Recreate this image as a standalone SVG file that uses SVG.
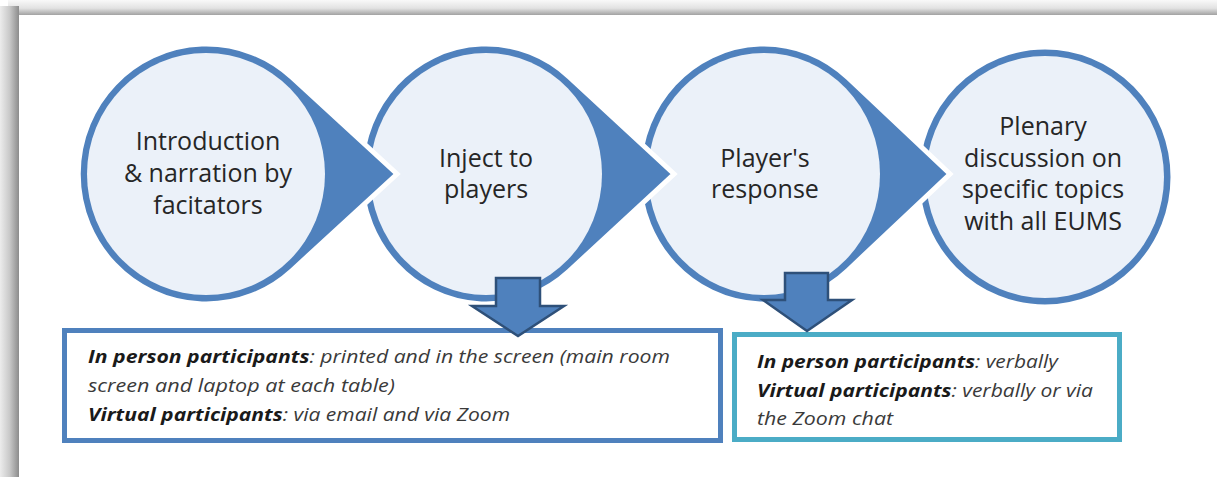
<svg xmlns="http://www.w3.org/2000/svg" width="1217" height="477" viewBox="0 0 1217 477">
<defs>
<linearGradient id="gTop" x1="0" y1="0" x2="0" y2="1">
<stop offset="0" stop-color="#f9f9f9"/>
<stop offset="0.55" stop-color="#e2e2e2"/>
<stop offset="1" stop-color="#a2a2a2"/>
</linearGradient>
<linearGradient id="gLeft" x1="0" y1="0" x2="1" y2="0">
<stop offset="0" stop-color="#ececec"/>
<stop offset="0.5" stop-color="#c9c9c9"/>
<stop offset="1" stop-color="#8c8c8c"/>
</linearGradient>
<style>
.ring{fill:#4F81BD;stroke:#FFFFFF;stroke-width:5;stroke-linejoin:miter}
.inner{fill:#EBF1F9}
.lbl{font-family:"Open Sans","Liberation Sans",sans-serif;font-size:25px;fill:#262626;text-anchor:middle}
.box1{fill:#FFFFFF;stroke:#4F81BD;stroke-width:5}
.box2{fill:#FFFFFF;stroke:#4BACC6;stroke-width:5}
.bt{font-family:"Open Sans","Liberation Sans",sans-serif;font-size:18px;font-style:italic;fill:#3a3a3a}
.bt .b{font-weight:bold;fill:#1a1a1a}
.arr{fill:#4F81BD;stroke:#2E5079;stroke-width:2.5;stroke-linejoin:miter}
</style>
</defs>
<rect x="0" y="0" width="1217" height="477" fill="#FFFFFF"/>
<rect x="8" y="0" width="1209" height="15" fill="url(#gTop)"/>
<rect x="0" y="6" width="19" height="471" fill="url(#gLeft)"/>

<g id="node4">
<ellipse cx="1045" cy="177" rx="128" ry="130" class="ring"/>
<ellipse cx="1045" cy="177" rx="119" ry="121" class="inner"/>
<text class="lbl"><tspan x="1043" y="135">Plenary</tspan><tspan x="1043" y="167">discussion on</tspan><tspan x="1043" y="198">specific topics</tspan><tspan x="1043" y="230">with all EUMS</tspan></text>
</g>
<g id="node3">
<path class="ring" d="M848,77.8 L950,174 L848,270.2 A125 130 0 1 1 848,77.8 Z"/>
<ellipse cx="764" cy="174" rx="116" ry="121" class="inner"/>
<text class="lbl"><tspan x="765" y="167">Player's</tspan><tspan x="765" y="198">response</tspan></text>
</g>
<g id="node2">
<path class="ring" d="M569.1,76.9 L674,174 L569.1,271.1 A125 130 0 1 1 569.1,76.9 Z"/>
<ellipse cx="486" cy="174" rx="116" ry="121" class="inner"/>
<text class="lbl"><tspan x="486" y="167">Inject to</tspan><tspan x="486" y="198">players</tspan></text>
</g>
<g id="node1">
<path class="ring" d="M292,77.5 L397,174 L292,270.5 A128 130 0 1 1 292,77.5 Z"/>
<ellipse cx="206" cy="174" rx="119" ry="121" class="inner"/>
<text class="lbl"><tspan x="208" y="150">Introduction</tspan><tspan x="208" y="182">&amp; narration by</tspan><tspan x="208" y="214">facitators</tspan></text>
</g>

<g id="box1">
<rect x="64.5" y="330.5" width="656" height="110" class="box1"/>
<text class="bt" x="88" y="363" textLength="582" lengthAdjust="spacingAndGlyphs"><tspan class="b">In person participants</tspan>:  printed and  in the screen (main room</text>
<text class="bt" x="88" y="392" textLength="307" lengthAdjust="spacingAndGlyphs">screen and laptop  at each table)</text>
<text class="bt" x="88" y="421" textLength="422" lengthAdjust="spacingAndGlyphs"><tspan class="b">Virtual participants</tspan>: via email and via Zoom</text>
</g>
<g id="box2">
<rect x="734.5" y="334.5" width="385" height="105" class="box2"/>
<text class="bt" x="757" y="368" textLength="301" lengthAdjust="spacingAndGlyphs"><tspan class="b">In person participants</tspan>:  verbally</text>
<text class="bt" x="757" y="397" textLength="336" lengthAdjust="spacingAndGlyphs"><tspan class="b">Virtual participants</tspan>: verbally or via</text>
<text class="bt" x="757" y="425" textLength="136" lengthAdjust="spacingAndGlyphs">the Zoom chat</text>
</g>

<g id="connectors">
<polygon class="arr" points="496,278 540,278 540,306 564,306 518,336 472,306 496,306"/>
<polygon class="arr" points="785,273 828,273 828,300 852,300 807,331 763,300 785,300"/>
</g>
</svg>
